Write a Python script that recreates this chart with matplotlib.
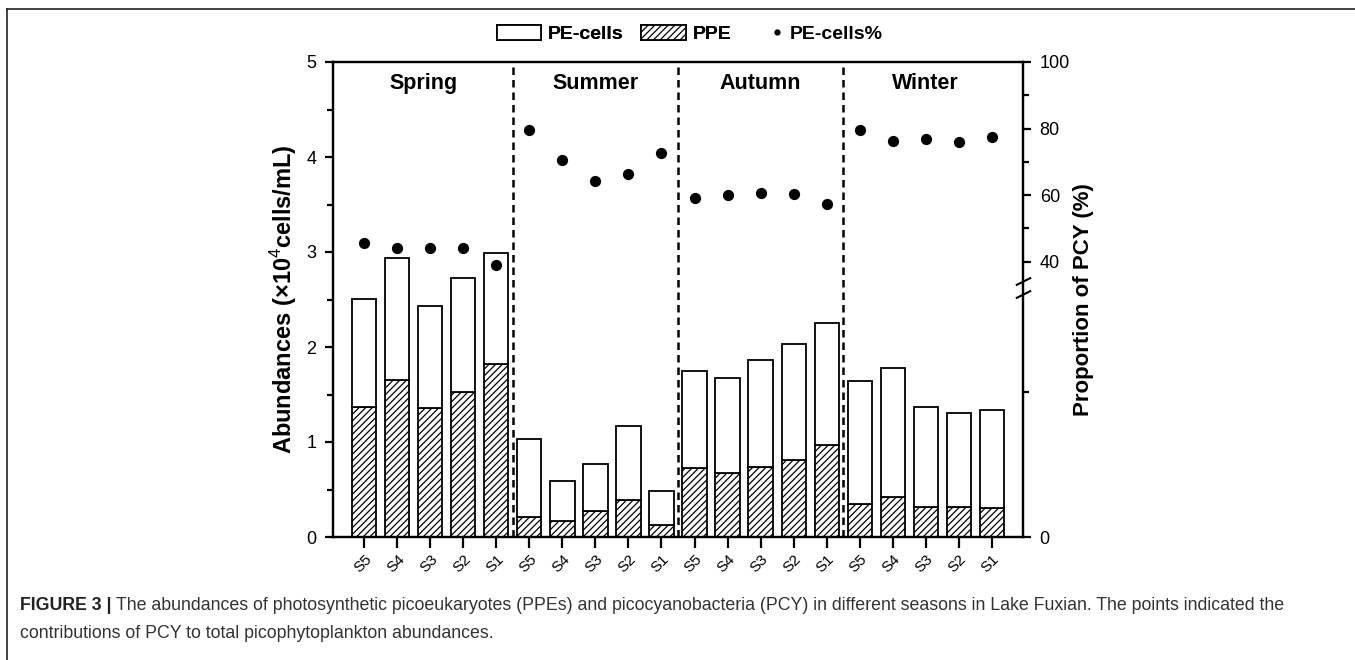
from matplotlib import pyplot as plt
from matplotlib.patches import Patch
from matplotlib.lines import Line2D
import numpy as np

plt.rcParams['font.family'] = ['Liberation Sans', 'DejaVu Sans']
plt.rcParams['mathtext.fontset'] = 'custom'
plt.rcParams['mathtext.rm'] = 'Liberation Sans'
plt.rcParams['mathtext.bf'] = 'Liberation Sans:bold'
plt.rcParams['hatch.linewidth'] = 0.9

seasons = ['Spring', 'Summer', 'Autumn', 'Winter']
sites = ['S5', 'S4', 'S3', 'S2', 'S1']

# abundances, x10^4 cells/mL (bars are stacked: PPE at the bottom)
ppe = [1.37, 1.65, 1.36, 1.53, 1.82,
       0.21, 0.17, 0.27, 0.39, 0.13,
       0.73, 0.67, 0.74, 0.81, 0.97,
       0.35, 0.42, 0.32, 0.32, 0.31]
pe_cells = [1.14, 1.29, 1.07, 1.20, 1.17,
            0.82, 0.42, 0.50, 0.78, 0.35,
            1.02, 1.00, 1.12, 1.22, 1.28,
            1.29, 1.36, 1.05, 0.99, 1.03]
# PE-cells share of PCY, %
pe_pct = [45.5, 44.0, 44.0, 44.0, 38.9,
          79.5, 70.5, 64.2, 66.3, 72.6,
          59.0, 60.0, 60.5, 60.2, 57.2,
          79.5, 76.2, 76.8, 75.9, 77.4]

right_ticks = [0, 40, 60, 80, 100]

# broken right axis: 0..33 squeezed in the lower part, 33..100 on top
BRK = 33.0
def fwd(v):
    v = np.asarray(v, dtype=float)
    return np.where(v < BRK, v * 252.0 / BRK, 252.0 + (v - BRK) * 223.0 / (100 - BRK))

def inv(p):
    p = np.asarray(p, dtype=float)
    return np.where(p < 252.0, p * BRK / 252.0, BRK + (p - 252.0) * (100 - BRK) / 223.0)


W, H = 1355, 660
fig = plt.figure(figsize=(W / 100, H / 100), dpi=100)
ax = fig.add_axes([333 / W, 1 - 537 / H, 690 / W, 475 / H])

x = np.arange(len(ppe))
ax.bar(x, ppe, width=0.73, color='white', edgecolor='black', hatch='/////', linewidth=1.3, zorder=2)
ax.bar(x, pe_cells, bottom=ppe, width=0.73, color='white', edgecolor='black', linewidth=1.3, zorder=2)

for k in range(1, len(seasons)):
    ax.axvline(k * len(sites) - 0.5, color='black', lw=1.8, ls=(0, (3, 2)), zorder=1)
for k, s in enumerate(seasons):
    ax.text(k * len(sites) + 2 - (0.2 if k == 0 else 0), 4.77, s, ha='center', va='center',
            fontsize=15.5, fontweight='bold')

ax.set_xlim(-0.95, len(ppe) - 0.05)
ax.set_ylim(0, 5)
ax.set_yticks(np.arange(0, 6, 1))
ax.set_yticks(np.arange(0.5, 5, 1), minor=True)
ax.set_xticks(x)
ax.set_xticklabels(sites * len(seasons), rotation=45, ha='right', va='top', rotation_mode='anchor', fontsize=11)
ax.tick_params(axis='y', which='major', direction='out', length=6, width=1.6, labelsize=13, pad=6)
ax.tick_params(axis='y', which='minor', direction='out', length=4, width=1.6)
ax.tick_params(axis='x', which='major', direction='out', length=8, width=1.6, pad=3)
for sp in ax.spines.values():
    sp.set_linewidth(1.6)
ax.set_ylabel('Abundances (×10$^4$cells/mL)', fontsize=17, fontweight='bold', labelpad=5)

ax2 = ax.twinx()
ax2.set_yscale('function', functions=(fwd, inv))
ax2.set_ylim(0, 100)
ax2.scatter(x, pe_pct, s=50, color='black', zorder=3)
ax2.set_yticks(right_ticks)
ax2.set_yticks([19, 50, 70, 90], minor=True)
ax2.tick_params(axis='y', which='major', direction='out', length=6, width=1.6, labelsize=13, pad=6)
ax2.tick_params(axis='y', which='minor', direction='out', length=4, width=1.6)
for sp in ax2.spines.values():
    sp.set_linewidth(1.6)
ax2.set_ylabel('Proportion of PCY (%)', fontsize=16, fontweight='bold', labelpad=2)
# break marks on the right spine
ax2.plot([1, 1], [BRK - 1.2, BRK + 1.2], transform=ax2.get_yaxis_transform(), ls='none',
         marker=[(-1, -0.5), (1, 0.5)], markersize=11, mew=1.5, color='black', clip_on=False)

bar_handles = [Patch(facecolor='white', edgecolor='black', linewidth=1.3),
               Patch(facecolor='white', edgecolor='black', hatch='/////', linewidth=1.3)]
leg = fig.legend(bar_handles, ['PE-cells', 'PPE'], loc='center left', bbox_to_anchor=((497 - 18) / W, 1 - 34 / H),
                 ncol=2, frameon=False, prop={'weight': 'bold', 'size': 14}, handlelength=2.3,
                 handleheight=0.85, columnspacing=0.9, handletextpad=0.35)
fig.legend([Line2D([], [], ls='none', marker='o', markersize=3.5, color='black')], ['PE-cells%'],
           loc='center left', bbox_to_anchor=((768 - 18) / W, 1 - 34 / H), frameon=False,
           prop={'weight': 'bold', 'size': 14}, handlelength=1.0, handletextpad=0.15)
fig.add_artist(leg)

# outer frame of the figure panel
fig.add_artist(Line2D([7 / W, 1], [1 - 9 / H, 1 - 9 / H], transform=fig.transFigure, color='#222222', lw=1.2))
fig.add_artist(Line2D([7 / W, 7 / W], [0, 1 - 9 / H], transform=fig.transFigure, color='#222222', lw=1.2))

cap_font = ['Liberation Sans Narrow', 'Liberation Sans']
t = fig.text(20 / W, 1 - 605 / H, 'FIGURE 3 |', fontsize=12.8, fontweight='bold', family=cap_font,
             color='#222222', va='center')
fig.canvas.draw()
bb = t.get_window_extent()
fig.text(bb.x1 / W + 4 / W, 1 - 605 / H,
         'The abundances of photosynthetic picoeukaryotes (PPEs) and picocyanobacteria (PCY) in different seasons '
         'in Lake Fuxian. The points indicated the', fontsize=12.8, family=cap_font, color='#333333', va='center')
fig.text(20 / W, 1 - 633 / H, 'contributions of PCY to total picophytoplankton abundances.',
         fontsize=12.8, family=cap_font, color='#333333', va='center')

fig.savefig('out.png', dpi=100)
